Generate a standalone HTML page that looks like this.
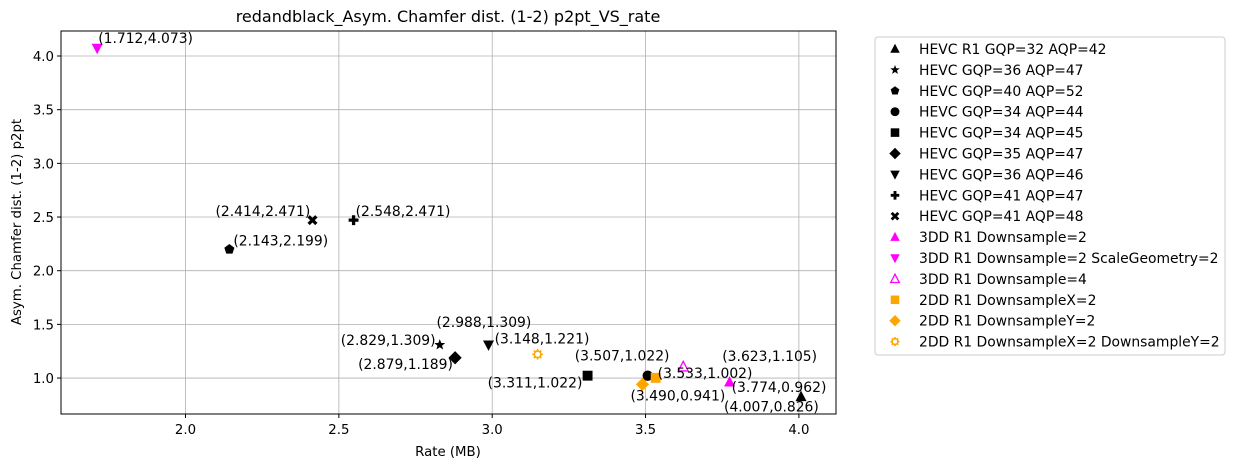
<!DOCTYPE html>
<html><head><meta charset="utf-8">
<style>
body{margin:0;background:#fff;}
svg{display:block;font-family:"DejaVu Sans","Liberation Sans",sans-serif;}
</style></head>
<body>
<svg id="chart" width="1235" height="468" viewBox="0 0 1235 468">
<text x="448" y="22" font-size="16" text-anchor="middle">redandblack_Asym. Chamfer dist. (1-2) p2pt_VS_rate</text>
<g id="grid"></g>
<g id="marks"></g>
<rect x="61" y="31" width="775" height="383" fill="none" stroke="#000" stroke-width="1"/>
<g id="ticks"></g>
<text x="448" y="456" font-size="13.3" text-anchor="middle">Rate (MB)</text>
<text transform="translate(21,222) rotate(-90)" font-size="13.3" text-anchor="middle">Asym. Chamfer dist. (1-2) p2pt</text>
<rect x="875" y="37" width="350" height="318" rx="3" fill="#fff" stroke="#ccc"/>
<g id="legend"></g>
</svg>
<script>
const seriesNames=["HEVC R1 GQP=32 AQP=42","HEVC GQP=36 AQP=47","HEVC GQP=40 AQP=52","HEVC GQP=34 AQP=44","HEVC GQP=34 AQP=45","HEVC GQP=35 AQP=47","HEVC GQP=36 AQP=46","HEVC GQP=41 AQP=47","HEVC GQP=41 AQP=48","3DD R1 Downsample=2","3DD R1 Downsample=2 ScaleGeometry=2","3DD R1 Downsample=4","2DD R1 DownsampleX=2","2DD R1 DownsampleY=2","2DD R1 DownsampleX=2 DownsampleY=2"];
const rateValues=[4.007,2.829,2.143,3.507,3.311,2.879,2.988,2.548,2.414,3.774,1.712,3.623,3.533,3.490,3.148];
const distValues=[0.826,1.309,2.199,1.022,1.022,1.189,1.309,2.471,2.471,0.962,4.073,1.105,1.002,0.941,1.221];
const xTicks=[2.0,2.5,3.0,3.5,4.0];
const yTicks=[1.0,1.5,2.0,2.5,3.0,3.5,4.0];
const shapes=["tri","star","pent","circ","sq","diam","tdown","plus","x","tri","tdown","otri","sq","diam","gear"];
const colors=["#000","#000","#000","#000","#000","#000","#000","#000","#000","#f0f","#f0f","#f0f","#ffa500","#ffa500","#ffa500"];
// label offsets (px) relative to point
const labelDx=[-77,-99,4,-73,-100,-97,-52,2,-97,2,1,39,2,-12,-43];
const labelDy=[15,0,-4,-15,12,11,-18,-4,-4,10,-5,-6,0,16,-11];

const X0=1.594,X1=4.121,Y0=0.665,Y1=4.233;
const L=61,R=836,T=31,B=414;
const sx=v=>L+(v-X0)/(X1-X0)*(R-L);
const sy=v=>B-(v-Y0)/(Y1-Y0)*(B-T);
const NS="http://www.w3.org/2000/svg";
function mk(tag,attrs,parent){const e=document.createElementNS(NS,tag);for(const k in attrs)e.setAttribute(k,attrs[k]);parent.appendChild(e);return e;}
const grid=document.getElementById('grid'),ticks=document.getElementById('ticks'),marks=document.getElementById('marks'),legend=document.getElementById('legend');
xTicks.forEach(t=>{const x=sx(t);
 const g=mk('line',{x1:x,x2:x,y1:T,y2:B,stroke:'#b0b0b0','stroke-width':0.8},grid);
 
 
 mk('line',{x1:x,x2:x,y1:B,y2:B+4,stroke:'#000'},ticks);
 const l=mk('text',{x:x,y:B+20,'font-size':13.3,'text-anchor':'middle'},ticks);l.textContent=t.toFixed(1);
 
 });
yTicks.forEach(t=>{const y=sy(t);
 const g=mk('line',{x1:L,x2:R,y1:y,y2:y,stroke:'#b0b0b0','stroke-width':0.8},grid);
 
 
 mk('line',{x1:L-4,x2:L,y1:y,y2:y,stroke:'#000'},ticks);
 const l=mk('text',{x:L-7,y:y+5,'font-size':13.3,'text-anchor':'end'},ticks);l.textContent=t.toFixed(1);
 
 });
function marker(shape,c,x,y,p,s){s=s||1;let e;
 const P=pts=>pts.map(q=>(x+q[0]*s)+','+(y+q[1]*s)).join(' ');
 switch(shape){
 case 'tri':e=mk('polygon',{points:P([[0,-5.5],[5,4],[-5,4]]),fill:c},p);break;
 case 'otri':e=mk('polygon',{points:P([[0,-5],[4.5,3.8],[-4.5,3.8]]),fill:'#fff',stroke:c,'stroke-width':1.3},p);break;
 case 'tdown':e=mk('polygon',{points:P([[0,5.5],[5,-4],[-5,-4]]),fill:c},p);break;
 case 'sq':e=mk('rect',{x:x-4.5*s,y:y-4.5*s,width:9*s,height:9*s,fill:c},p);break;
 case 'circ':e=mk('circle',{cx:x,cy:y,r:4.7*s,fill:c},p);break;
 case 'diam':e=mk('polygon',{points:P([[0,-6],[6,0],[0,6],[-6,0]]),fill:c},p);break;
 case 'pent':{const a=[];for(let i=0;i<5;i++){const t=-Math.PI/2+i*2*Math.PI/5;a.push([4.8*Math.cos(t),4.8*Math.sin(t)]);}e=mk('polygon',{points:P(a),fill:c},p);break;}
 case 'star':{const a=[];for(let i=0;i<10;i++){const t=-Math.PI/2+i*Math.PI/5,r=i%2?2.2:5.2;a.push([r*Math.cos(t),r*Math.sin(t)]);}e=mk('polygon',{points:P(a),fill:c},p);break;}
 case 'plus':e=mk('path',{d:`M${x-4.5*s},${y}H${x+4.5*s}M${x},${y-4.5*s}V${y+4.5*s}`,stroke:c,'stroke-width':3*s},p);break;
 case 'x':e=mk('path',{d:`M${x-3.5*s},${y-3.5*s}L${x+3.5*s},${y+3.5*s}M${x+3.5*s},${y-3.5*s}L${x-3.5*s},${y+3.5*s}`,stroke:c,'stroke-width':3*s},p);break;
 case 'gear':{e=mk('g',{},p);mk('circle',{cx:x,cy:y,r:3*s,fill:'none',stroke:c,'stroke-width':1.6},e);
   for(let i=0;i<8;i++){const t=i*Math.PI/4;mk('line',{x1:x+3*s*Math.cos(t),y1:y+3*s*Math.sin(t),x2:x+4.8*s*Math.cos(t),y2:y+4.8*s*Math.sin(t),stroke:c,'stroke-width':1.6},e);}break;}
 }return e;}
rateValues.forEach((r,i)=>{const x=sx(r),y=sy(distValues[i]);
 const m=marker(shapes[i],colors[i],x,y,marks,1.1);
 
 
 const t=mk('text',{x:x+labelDx[i],y:y+labelDy[i],'font-size':13.9},marks);
 t.textContent='('+r.toFixed(3)+','+distValues[i].toFixed(3)+')';
 
 });
seriesNames.forEach((n,i)=>{const y=49+i*20.9;
 const g=mk('g',{},legend);
 
 
 marker(shapes[i],colors[i],895,y,g,0.95);
 const t=mk('text',{x:919,y:y+5,'font-size':13.9},g);t.textContent=n;});
</script>
</body></html>
